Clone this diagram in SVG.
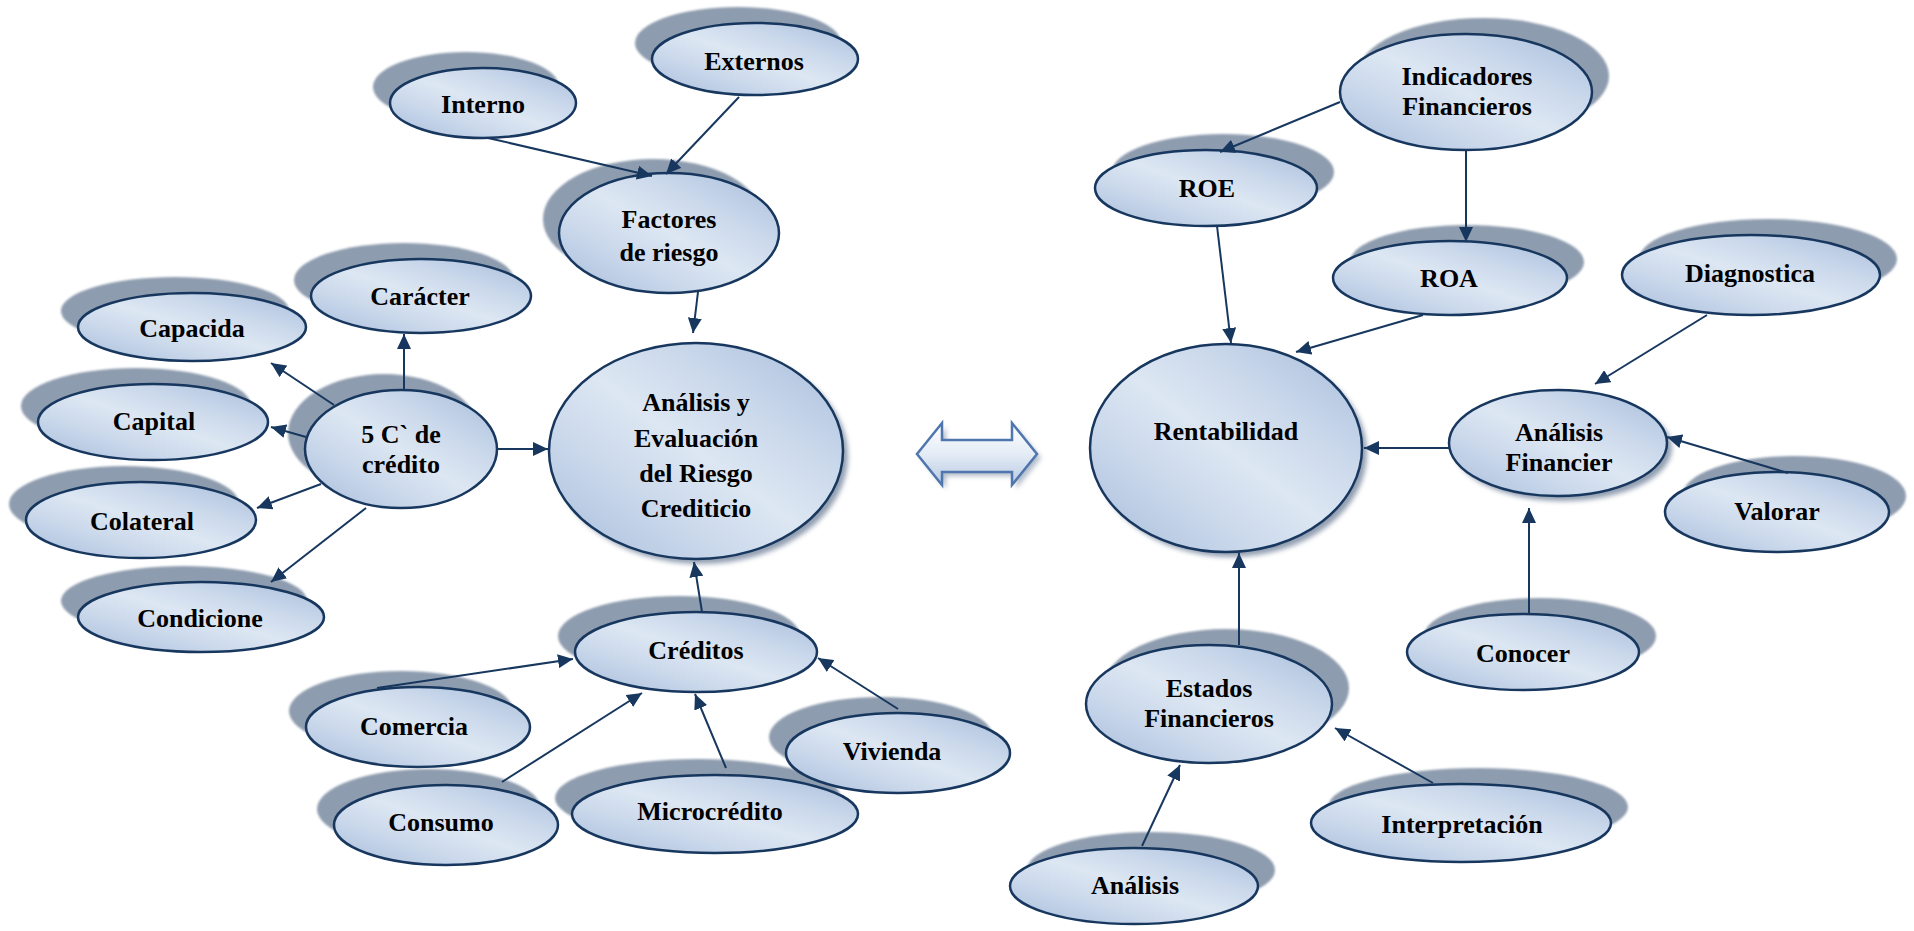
<svg xmlns="http://www.w3.org/2000/svg" width="1914" height="931" viewBox="0 0 1914 931">
<defs>
<linearGradient id="g" x1="1" y1="0" x2="0" y2="1">
<stop offset="0" stop-color="#A6BCDB"/>
<stop offset="0.3" stop-color="#CAD8EB"/>
<stop offset="0.5" stop-color="#DDE7F3"/>
<stop offset="0.7" stop-color="#CAD8EB"/>
<stop offset="1" stop-color="#A6BCDB"/>
</linearGradient>
<linearGradient id="ga" x1="0" y1="0" x2="0" y2="1">
<stop offset="0" stop-color="#FFFFFF"/>
<stop offset="0.5" stop-color="#E4ECF6"/>
<stop offset="1" stop-color="#B7C9E2"/>
</linearGradient>
<filter id="blur" x="-10%" y="-10%" width="120%" height="120%"><feGaussianBlur stdDeviation="1.2"/></filter>
<filter id="blur2" x="-10%" y="-10%" width="120%" height="120%"><feGaussianBlur stdDeviation="2.5"/></filter>
<marker id="ah" markerUnits="userSpaceOnUse" markerWidth="16" markerHeight="14" refX="15" refY="7" orient="auto">
<path d="M0,0 L15,7 L0,14 z" fill="#17375E"/>
</marker>
<style>
.sh{fill:#8E9CAF;filter:url(#blur)}
.ds{fill:#6E7F98;opacity:.75;filter:url(#blur2)}
.n{fill:url(#g);stroke:#17375E;stroke-width:2.5}
.t{font-family:"Liberation Serif","Times New Roman",serif;font-weight:bold;font-size:26px;fill:#000;text-anchor:middle}
.c{stroke:#17375E;stroke-width:2;fill:none;marker-end:url(#ah)}
</style>
</defs>
<rect width="1914" height="931" fill="#FFFFFF"/>

<g id="double-arrow">
<path d="M921,458 L946,427 L946,444 L1016,444 L1016,427 L1041,458 L1016,489 L1016,476 L946,476 L946,489 Z" fill="#7F8FA6" opacity=".6" filter="url(#blur2)"/>
<path d="M917,454 L942,423 L942,440 L1012,440 L1012,423 L1037,454 L1012,485 L1012,472 L942,472 L942,485 Z" fill="url(#ga)" stroke="#4F76AD" stroke-width="2.5" stroke-linejoin="miter"/>
</g>

<g id="n-interno"><ellipse class="sh" cx="466" cy="87" rx="93" ry="35"/><ellipse class="n" cx="483" cy="103" rx="93" ry="35"/><text class="t" x="483" y="113">Interno</text></g>
<g id="n-externos"><ellipse class="sh" cx="738" cy="43" rx="103" ry="36"/><ellipse class="n" cx="755" cy="59" rx="103" ry="36"/><text class="t" x="754" y="70">Externos</text></g>
<g id="n-factores"><ellipse class="sh" cx="653" cy="219" rx="110" ry="60"/><ellipse class="n" cx="669" cy="233" rx="110" ry="60"/><text class="t" x="669" y="228">Factores</text><text class="t" x="669" y="261">de riesgo</text></g>
<g id="n-caracter"><ellipse class="sh" cx="404" cy="280" rx="110" ry="37"/><ellipse class="n" cx="421" cy="296" rx="110" ry="37"/><text class="t" x="420" y="305">Carácter</text></g>
<g id="n-capacida"><ellipse class="sh" cx="175" cy="311" rx="114" ry="34"/><ellipse class="n" cx="192" cy="327" rx="114" ry="34"/><text class="t" x="192" y="337">Capacida</text></g>
<g id="n-capital"><ellipse class="sh" cx="136" cy="406" rx="115" ry="38"/><ellipse class="n" cx="153" cy="422" rx="115" ry="38"/><text class="t" x="154" y="430">Capital</text></g>
<g id="n-5c"><ellipse class="sh" cx="384" cy="433" rx="96" ry="59"/><ellipse class="n" cx="401" cy="449" rx="96" ry="59"/><text class="t" x="401" y="443">5 C` de</text><text class="t" x="401" y="473">crédito</text></g>
<g id="n-colateral"><ellipse class="sh" cx="124" cy="504" rx="115" ry="38"/><ellipse class="n" cx="141" cy="520" rx="115" ry="38"/><text class="t" x="142" y="530">Colateral</text></g>
<g id="n-condicione"><ellipse class="sh" cx="184" cy="601" rx="123" ry="35"/><ellipse class="n" cx="201" cy="617" rx="123" ry="35"/><text class="t" x="200" y="627">Condicione</text></g>
<g id="n-analisis-eval"><ellipse class="ds" cx="701" cy="456" rx="147" ry="108"/><ellipse class="n" cx="696" cy="451" rx="147" ry="108"/><text class="t" x="696" y="411">Análisis y</text><text class="t" x="696" y="447">Evaluación</text><text class="t" x="696" y="482">del Riesgo</text><text class="t" x="696" y="517">Crediticio</text></g>
<g id="n-creditos"><ellipse class="sh" cx="679" cy="636" rx="121" ry="40"/><ellipse class="n" cx="696" cy="652" rx="121" ry="40"/><text class="t" x="696" y="659">Créditos</text></g>
<g id="n-comercia"><ellipse class="sh" cx="401" cy="711" rx="112" ry="40"/><ellipse class="n" cx="418" cy="727" rx="112" ry="40"/><text class="t" x="414" y="735">Comercia</text></g>
<g id="n-consumo"><ellipse class="sh" cx="429" cy="809" rx="112" ry="40"/><ellipse class="n" cx="446" cy="825" rx="112" ry="40"/><text class="t" x="441" y="831">Consumo</text></g>
<g id="n-microcredito"><ellipse class="sh" cx="698" cy="798" rx="143" ry="39"/><ellipse class="n" cx="715" cy="814" rx="143" ry="39"/><text class="t" x="710" y="820">Microcrédito</text></g>
<g id="n-vivienda"><ellipse class="sh" cx="881" cy="737" rx="112" ry="40"/><ellipse class="n" cx="898" cy="753" rx="112" ry="40"/><text class="t" x="892" y="760">Vivienda</text></g>

<g id="n-indicadores"><ellipse class="sh" cx="1483" cy="76" rx="126" ry="58"/><ellipse class="n" cx="1466" cy="92" rx="126" ry="58"/><text class="t" x="1467" y="85">Indicadores</text><text class="t" x="1467" y="115">Financieros</text></g>
<g id="n-roe"><ellipse class="sh" cx="1223" cy="172" rx="111" ry="38"/><ellipse class="n" cx="1206" cy="188" rx="111" ry="38"/><text class="t" x="1207" y="197">ROE</text></g>
<g id="n-roa"><ellipse class="sh" cx="1467" cy="262" rx="117" ry="37"/><ellipse class="n" cx="1450" cy="278" rx="117" ry="37"/><text class="t" x="1449" y="287">ROA</text></g>
<g id="n-rentabilidad"><ellipse class="ds" cx="1231" cy="453" rx="136" ry="104"/><ellipse class="n" cx="1226" cy="448" rx="136" ry="104"/><text class="t" x="1226" y="440">Rentabilidad</text></g>
<g id="n-analisis-fin"><ellipse class="ds" cx="1563" cy="448" rx="109" ry="53"/><ellipse class="n" cx="1558" cy="443" rx="109" ry="53"/><text class="t" x="1559" y="441">Análisis</text><text class="t" x="1559" y="471">Financier</text></g>
<g id="n-diagnostica"><ellipse class="sh" cx="1768" cy="259" rx="129" ry="40"/><ellipse class="n" cx="1751" cy="275" rx="129" ry="40"/><text class="t" x="1750" y="282">Diagnostica</text></g>
<g id="n-valorar"><ellipse class="sh" cx="1794" cy="496" rx="112" ry="40"/><ellipse class="n" cx="1777" cy="512" rx="112" ry="40"/><text class="t" x="1777" y="520">Valorar</text></g>
<g id="n-conocer"><ellipse class="sh" cx="1540" cy="636" rx="116" ry="38"/><ellipse class="n" cx="1523" cy="652" rx="116" ry="38"/><text class="t" x="1523" y="662">Conocer</text></g>
<g id="n-estados"><ellipse class="sh" cx="1226" cy="688" rx="123" ry="59"/><ellipse class="n" cx="1209" cy="704" rx="123" ry="59"/><text class="t" x="1209" y="697">Estados</text><text class="t" x="1209" y="727">Financieros</text></g>
<g id="n-interpretacion"><ellipse class="sh" cx="1478" cy="807" rx="150" ry="39"/><ellipse class="n" cx="1461" cy="823" rx="150" ry="39"/><text class="t" x="1462" y="833">Interpretación</text></g>
<g id="n-analisis"><ellipse class="sh" cx="1151" cy="870" rx="124" ry="38"/><ellipse class="n" cx="1134" cy="886" rx="124" ry="38"/><text class="t" x="1135" y="894">Análisis</text></g>

<g id="connectors">
<line class="c" x1="488" y1="138" x2="652" y2="176"/>
<line class="c" x1="739" y1="97" x2="666" y2="174"/>
<line class="c" x1="698" y1="292" x2="693" y2="333"/>
<line class="c" x1="497" y1="449" x2="548" y2="449"/>
<line class="c" x1="404" y1="390" x2="404" y2="334"/>
<line class="c" x1="334" y1="405" x2="271" y2="363"/>
<line class="c" x1="306" y1="437" x2="271" y2="427"/>
<line class="c" x1="321" y1="484" x2="257" y2="508"/>
<line class="c" x1="366" y1="508" x2="271" y2="582"/>
<line class="c" x1="702" y1="612" x2="694" y2="562"/>
<line class="c" x1="377" y1="688" x2="573" y2="659"/>
<line class="c" x1="502" y1="782" x2="642" y2="693"/>
<line class="c" x1="726" y1="768" x2="695" y2="694"/>
<line class="c" x1="898" y1="709" x2="818" y2="658"/>
<line class="c" x1="1340" y1="102" x2="1220" y2="152"/>
<line class="c" x1="1466" y1="150" x2="1466" y2="242"/>
<line class="c" x1="1217" y1="226" x2="1231" y2="343"/>
<line class="c" x1="1423" y1="315" x2="1296" y2="352"/>
<line class="c" x1="1449" y1="448" x2="1364" y2="448"/>
<line class="c" x1="1707" y1="315" x2="1595" y2="384"/>
<line class="c" x1="1788" y1="473" x2="1667" y2="437"/>
<line class="c" x1="1529" y1="613" x2="1529" y2="508"/>
<line class="c" x1="1239" y1="645" x2="1239" y2="553"/>
<line class="c" x1="1142" y1="846" x2="1180" y2="765"/>
<line class="c" x1="1433" y1="783" x2="1335" y2="728"/>
</g>
</svg>
